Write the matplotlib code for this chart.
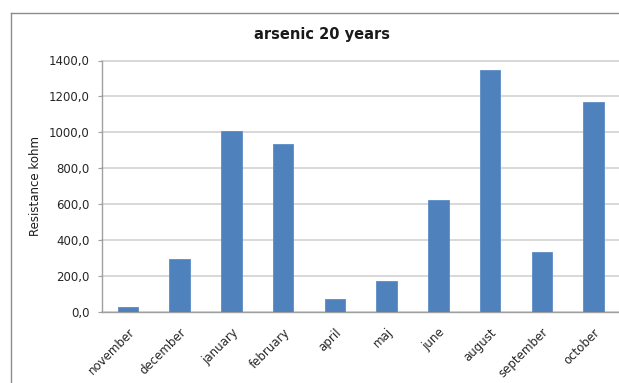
import matplotlib
matplotlib.use("Agg")
import matplotlib.pyplot as plt
from matplotlib.lines import Line2D

months = ["november", "december", "january", "february", "april",
          "maj", "june", "august", "september", "october"]
resistance = [25, 293, 1008, 933, 71, 171, 621, 1346, 332, 1169]
y_ticks = [0, 200, 400, 600, 800, 1000, 1200, 1400]
y_tick_labels = [f"{v:.1f}".replace(".", ",") for v in y_ticks]

plt.rcParams["font.family"] = ["DejaVu Sans"]

W, H = 619, 383
fig = plt.figure(figsize=(W / 100, H / 100), dpi=100)
fig.patch.set_facecolor("white")

# outer chart frame: left and top edges only (the rest runs off the canvas)
fx, fy = 10.5 / W, 1 - 12.5 / H
fig.add_artist(Line2D([fx, fx], [0, fy], transform=fig.transFigure,
                      color="#8c8c8c", linewidth=1.0))
fig.add_artist(Line2D([fx, 1.02], [fy, fy], transform=fig.transFigure,
                      color="#8c8c8c", linewidth=1.0))

ax = fig.add_axes([102 / W, (H - 311.7) / H, (619.5 - 102) / W, (311.7 - 60.5) / H])
x = range(len(months))
ax.bar(x, resistance, width=0.4, color="#4f81bd", edgecolor="#5b8cc6",
       linewidth=0.6, zorder=3)
ax.set_xlim(-0.5, len(months) - 0.5)
ax.set_ylim(0, 1400)

ax.set_yticks(y_ticks)
ax.set_yticklabels(y_tick_labels, fontsize=8.5, color="#262626")
ax.yaxis.grid(True, color="#d6d6d6", linewidth=1.3, zorder=0)
ax.set_axisbelow(True)
for gl in ax.get_ygridlines():
    gl.set_clip_on(False)

ax.set_xticks(list(x))
ax.set_xticklabels(months, rotation=45, ha="right", va="top",
                   rotation_mode="anchor", fontsize=8.5, color="#262626")
ax.tick_params(axis="x", length=0, pad=10)
ax.tick_params(axis="y", length=3, color="#a0a0a0", pad=6)

for side in ("top", "right"):
    ax.spines[side].set_visible(False)
for side in ("left", "bottom"):
    ax.spines[side].set_color("#a0a0a0")
    ax.spines[side].set_linewidth(1.0)

ax.set_ylabel("Resistance kohm", fontsize=8.5, color="#1a1a1a", labelpad=5)
fig.text(322 / W, 1 - 34 / H, "arsenic 20 years", ha="center", va="center",
         fontsize=10.5, fontweight="bold", color="#1a1a1a")

fig.savefig("out.png", dpi=100)
